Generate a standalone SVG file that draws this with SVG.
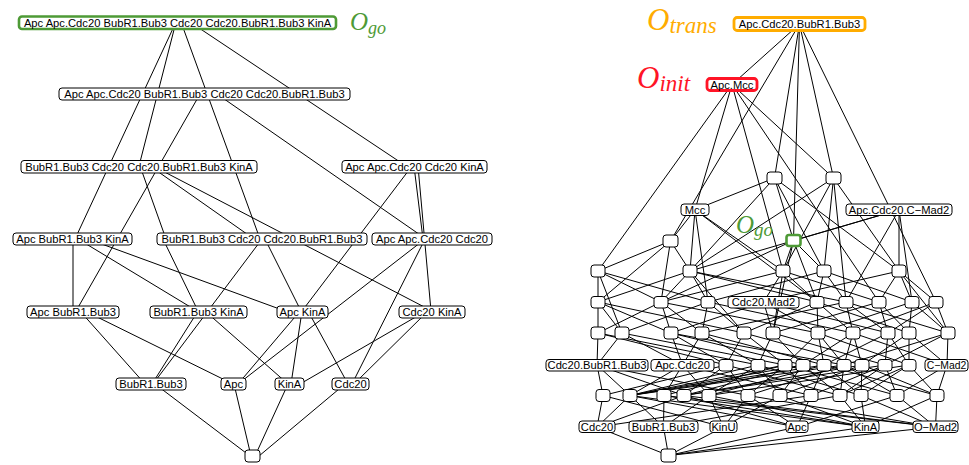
<svg xmlns="http://www.w3.org/2000/svg" width="969" height="465" viewBox="0 0 969 465">
<style>
.node rect{fill:#fff;stroke:#000;stroke-width:1}
.node text{font-family:"Liberation Sans",Arial,sans-serif;font-size:11.2px;text-anchor:middle;fill:#000}
.node rect.go{stroke:#4e9a36;stroke-width:2.6}
.node rect.tr{stroke:#ffac00;stroke-width:2.8}
.node rect.in{stroke:#ff1426;stroke-width:2.8}
.edges line{stroke:#000;stroke-width:1}
.m{font-family:"Liberation Serif","Times New Roman",serif;font-style:italic}
</style>
<rect width="969" height="465" fill="#fff"/>
<g id="edges" class="edges">
<line x1="176" y1="22" x2="75" y2="239"/>
<line x1="176" y1="22" x2="139" y2="166"/>
<line x1="181" y1="22" x2="260" y2="239"/>
<line x1="190" y1="22" x2="406" y2="166"/>
<line x1="200" y1="94" x2="76" y2="311"/>
<line x1="217" y1="94" x2="426" y2="239"/>
<line x1="140" y1="166" x2="166" y2="239"/>
<line x1="150" y1="166" x2="254" y2="239"/>
<line x1="153" y1="166" x2="432" y2="311"/>
<line x1="412" y1="166" x2="302" y2="311"/>
<line x1="414" y1="166" x2="423" y2="239"/>
<line x1="418" y1="166" x2="431" y2="311"/>
<line x1="73" y1="239" x2="73" y2="311"/>
<line x1="78" y1="239" x2="197" y2="311"/>
<line x1="88" y1="239" x2="285" y2="311"/>
<line x1="163" y1="239" x2="198" y2="311"/>
<line x1="262" y1="239" x2="153" y2="384"/>
<line x1="265" y1="239" x2="301" y2="311"/>
<line x1="425" y1="239" x2="238" y2="384"/>
<line x1="425" y1="239" x2="352" y2="384"/>
<line x1="80" y1="311" x2="145" y2="384"/>
<line x1="85" y1="311" x2="233" y2="384"/>
<line x1="198" y1="311" x2="152" y2="384"/>
<line x1="205" y1="311" x2="288" y2="384"/>
<line x1="300" y1="311" x2="238" y2="384"/>
<line x1="302" y1="311" x2="291" y2="384"/>
<line x1="308" y1="311" x2="348" y2="384"/>
<line x1="426" y1="311" x2="300" y2="384"/>
<line x1="428" y1="311" x2="354" y2="384"/>
<line x1="155" y1="384" x2="250" y2="456"/>
<line x1="234" y1="384" x2="251" y2="456"/>
<line x1="288" y1="384" x2="255" y2="456"/>
<line x1="345" y1="384" x2="259" y2="456"/>
<line x1="799.5" y1="24" x2="732" y2="84.5"/>
<line x1="799.5" y1="24" x2="670.5" y2="241"/>
<line x1="799.5" y1="24" x2="774.5" y2="178"/>
<line x1="799.5" y1="24" x2="793.5" y2="240.5"/>
<line x1="799.5" y1="24" x2="833.5" y2="178"/>
<line x1="799.5" y1="24" x2="936" y2="302"/>
<line x1="732" y1="84.5" x2="598" y2="271"/>
<line x1="732" y1="84.5" x2="695" y2="209.75"/>
<line x1="732" y1="84.5" x2="783" y2="271"/>
<line x1="732" y1="84.5" x2="879" y2="302"/>
<line x1="732" y1="84.5" x2="833.5" y2="178"/>
<line x1="774.5" y1="178" x2="695" y2="209.75"/>
<line x1="774.5" y1="178" x2="690" y2="271"/>
<line x1="774.5" y1="178" x2="793.5" y2="240.5"/>
<line x1="774.5" y1="178" x2="824" y2="271"/>
<line x1="774.5" y1="178" x2="899" y2="271"/>
<line x1="833.5" y1="178" x2="690" y2="271"/>
<line x1="833.5" y1="178" x2="783" y2="271"/>
<line x1="833.5" y1="178" x2="824" y2="271"/>
<line x1="833.5" y1="178" x2="899" y2="271"/>
<line x1="833.5" y1="178" x2="846" y2="302"/>
<line x1="695" y1="209.75" x2="670.5" y2="241"/>
<line x1="695" y1="209.75" x2="690" y2="271"/>
<line x1="695" y1="209.75" x2="783" y2="271"/>
<line x1="695" y1="209.75" x2="708" y2="302"/>
<line x1="695" y1="209.75" x2="817" y2="302"/>
<line x1="899" y1="209.75" x2="793.5" y2="240.5"/>
<line x1="899" y1="209.75" x2="690" y2="271"/>
<line x1="899" y1="209.75" x2="899" y2="271"/>
<line x1="899" y1="209.75" x2="846" y2="302"/>
<line x1="899" y1="209.75" x2="912" y2="302"/>
<line x1="670.5" y1="241" x2="598" y2="271"/>
<line x1="670.5" y1="241" x2="690" y2="271"/>
<line x1="670.5" y1="241" x2="598" y2="302"/>
<line x1="670.5" y1="241" x2="661" y2="302"/>
<line x1="793.5" y1="240.5" x2="783" y2="271"/>
<line x1="793.5" y1="240.5" x2="661" y2="302"/>
<line x1="793.5" y1="240.5" x2="817" y2="302"/>
<line x1="793.5" y1="240.5" x2="824" y2="271"/>
<line x1="793.5" y1="240.5" x2="773" y2="333"/>
<line x1="598" y1="271" x2="598" y2="302"/>
<line x1="598" y1="271" x2="661" y2="302"/>
<line x1="598" y1="271" x2="708" y2="302"/>
<line x1="598" y1="271" x2="622" y2="333"/>
<line x1="690" y1="271" x2="598" y2="302"/>
<line x1="690" y1="271" x2="661" y2="302"/>
<line x1="690" y1="271" x2="708" y2="302"/>
<line x1="690" y1="271" x2="817" y2="302"/>
<line x1="690" y1="271" x2="846" y2="302"/>
<line x1="690" y1="271" x2="744" y2="333"/>
<line x1="783" y1="271" x2="661" y2="302"/>
<line x1="783" y1="271" x2="763.5" y2="302"/>
<line x1="783" y1="271" x2="817" y2="302"/>
<line x1="783" y1="271" x2="879" y2="302"/>
<line x1="783" y1="271" x2="773" y2="333"/>
<line x1="824" y1="271" x2="708" y2="302"/>
<line x1="824" y1="271" x2="817" y2="302"/>
<line x1="824" y1="271" x2="846" y2="302"/>
<line x1="824" y1="271" x2="912" y2="302"/>
<line x1="899" y1="271" x2="763.5" y2="302"/>
<line x1="899" y1="271" x2="879" y2="302"/>
<line x1="899" y1="271" x2="912" y2="302"/>
<line x1="899" y1="271" x2="936" y2="302"/>
<line x1="899" y1="271" x2="948" y2="333"/>
<line x1="598" y1="302" x2="598" y2="333"/>
<line x1="598" y1="302" x2="622" y2="333"/>
<line x1="598" y1="302" x2="671" y2="333"/>
<line x1="598" y1="302" x2="744" y2="333"/>
<line x1="661" y1="302" x2="598" y2="333"/>
<line x1="661" y1="302" x2="671" y2="333"/>
<line x1="661" y1="302" x2="702" y2="333"/>
<line x1="661" y1="302" x2="818" y2="333"/>
<line x1="708" y1="302" x2="622" y2="333"/>
<line x1="708" y1="302" x2="702" y2="333"/>
<line x1="708" y1="302" x2="744" y2="333"/>
<line x1="708" y1="302" x2="853" y2="333"/>
<line x1="763.5" y1="302" x2="671" y2="333"/>
<line x1="763.5" y1="302" x2="773" y2="333"/>
<line x1="763.5" y1="302" x2="818" y2="333"/>
<line x1="763.5" y1="302" x2="888" y2="333"/>
<line x1="817" y1="302" x2="744" y2="333"/>
<line x1="817" y1="302" x2="818" y2="333"/>
<line x1="817" y1="302" x2="853" y2="333"/>
<line x1="817" y1="302" x2="909" y2="333"/>
<line x1="846" y1="302" x2="702" y2="333"/>
<line x1="846" y1="302" x2="853" y2="333"/>
<line x1="846" y1="302" x2="888" y2="333"/>
<line x1="846" y1="302" x2="948" y2="333"/>
<line x1="879" y1="302" x2="773" y2="333"/>
<line x1="879" y1="302" x2="888" y2="333"/>
<line x1="879" y1="302" x2="909" y2="333"/>
<line x1="912" y1="302" x2="818" y2="333"/>
<line x1="912" y1="302" x2="909" y2="333"/>
<line x1="912" y1="302" x2="948" y2="333"/>
<line x1="936" y1="302" x2="853" y2="333"/>
<line x1="936" y1="302" x2="888" y2="333"/>
<line x1="936" y1="302" x2="948" y2="333"/>
<line x1="598" y1="333" x2="597" y2="365"/>
<line x1="598" y1="333" x2="726" y2="365"/>
<line x1="598" y1="333" x2="758" y2="365"/>
<line x1="622" y1="333" x2="597" y2="365"/>
<line x1="622" y1="333" x2="682.5" y2="365"/>
<line x1="622" y1="333" x2="785" y2="365"/>
<line x1="671" y1="333" x2="682.5" y2="365"/>
<line x1="671" y1="333" x2="726" y2="365"/>
<line x1="671" y1="333" x2="803" y2="365"/>
<line x1="671" y1="333" x2="844" y2="365"/>
<line x1="702" y1="333" x2="682.5" y2="365"/>
<line x1="702" y1="333" x2="758" y2="365"/>
<line x1="702" y1="333" x2="824" y2="365"/>
<line x1="744" y1="333" x2="726" y2="365"/>
<line x1="744" y1="333" x2="785" y2="365"/>
<line x1="744" y1="333" x2="862" y2="365"/>
<line x1="773" y1="333" x2="758" y2="365"/>
<line x1="773" y1="333" x2="803" y2="365"/>
<line x1="773" y1="333" x2="885" y2="365"/>
<line x1="818" y1="333" x2="785" y2="365"/>
<line x1="818" y1="333" x2="824" y2="365"/>
<line x1="818" y1="333" x2="844" y2="365"/>
<line x1="818" y1="333" x2="909" y2="365"/>
<line x1="853" y1="333" x2="803" y2="365"/>
<line x1="853" y1="333" x2="844" y2="365"/>
<line x1="853" y1="333" x2="862" y2="365"/>
<line x1="853" y1="333" x2="947" y2="365"/>
<line x1="888" y1="333" x2="824" y2="365"/>
<line x1="888" y1="333" x2="885" y2="365"/>
<line x1="888" y1="333" x2="909" y2="365"/>
<line x1="909" y1="333" x2="862" y2="365"/>
<line x1="909" y1="333" x2="909" y2="365"/>
<line x1="909" y1="333" x2="947" y2="365"/>
<line x1="948" y1="333" x2="885" y2="365"/>
<line x1="948" y1="333" x2="947" y2="365"/>
<line x1="948" y1="333" x2="844" y2="365"/>
<line x1="597" y1="365" x2="603" y2="395.5"/>
<line x1="597" y1="365" x2="630" y2="395.5"/>
<line x1="597" y1="365" x2="684" y2="395.5"/>
<line x1="597" y1="365" x2="748" y2="395.5"/>
<line x1="682.5" y1="365" x2="630" y2="395.5"/>
<line x1="682.5" y1="365" x2="664" y2="395.5"/>
<line x1="682.5" y1="365" x2="709" y2="395.5"/>
<line x1="682.5" y1="365" x2="811" y2="395.5"/>
<line x1="726" y1="365" x2="603" y2="395.5"/>
<line x1="726" y1="365" x2="684" y2="395.5"/>
<line x1="726" y1="365" x2="748" y2="395.5"/>
<line x1="726" y1="365" x2="840" y2="395.5"/>
<line x1="758" y1="365" x2="630" y2="395.5"/>
<line x1="758" y1="365" x2="709" y2="395.5"/>
<line x1="758" y1="365" x2="780" y2="395.5"/>
<line x1="758" y1="365" x2="861" y2="395.5"/>
<line x1="785" y1="365" x2="664" y2="395.5"/>
<line x1="785" y1="365" x2="748" y2="395.5"/>
<line x1="785" y1="365" x2="811" y2="395.5"/>
<line x1="785" y1="365" x2="897" y2="395.5"/>
<line x1="785" y1="365" x2="630" y2="395.5"/>
<line x1="803" y1="365" x2="684" y2="395.5"/>
<line x1="803" y1="365" x2="780" y2="395.5"/>
<line x1="803" y1="365" x2="840" y2="395.5"/>
<line x1="803" y1="365" x2="630" y2="395.5"/>
<line x1="824" y1="365" x2="709" y2="395.5"/>
<line x1="824" y1="365" x2="811" y2="395.5"/>
<line x1="824" y1="365" x2="861" y2="395.5"/>
<line x1="824" y1="365" x2="937" y2="395.5"/>
<line x1="824" y1="365" x2="630" y2="395.5"/>
<line x1="844" y1="365" x2="748" y2="395.5"/>
<line x1="844" y1="365" x2="840" y2="395.5"/>
<line x1="844" y1="365" x2="897" y2="395.5"/>
<line x1="844" y1="365" x2="630" y2="395.5"/>
<line x1="862" y1="365" x2="780" y2="395.5"/>
<line x1="862" y1="365" x2="861" y2="395.5"/>
<line x1="862" y1="365" x2="937" y2="395.5"/>
<line x1="862" y1="365" x2="684" y2="395.5"/>
<line x1="885" y1="365" x2="811" y2="395.5"/>
<line x1="885" y1="365" x2="897" y2="395.5"/>
<line x1="885" y1="365" x2="840" y2="395.5"/>
<line x1="885" y1="365" x2="684" y2="395.5"/>
<line x1="909" y1="365" x2="840" y2="395.5"/>
<line x1="909" y1="365" x2="937" y2="395.5"/>
<line x1="909" y1="365" x2="861" y2="395.5"/>
<line x1="909" y1="365" x2="709" y2="395.5"/>
<line x1="947" y1="365" x2="897" y2="395.5"/>
<line x1="947" y1="365" x2="937" y2="395.5"/>
<line x1="603" y1="395.5" x2="597" y2="427"/>
<line x1="603" y1="395.5" x2="723.5" y2="427"/>
<line x1="630" y1="395.5" x2="597" y2="427"/>
<line x1="630" y1="395.5" x2="663.5" y2="427"/>
<line x1="630" y1="395.5" x2="797" y2="427"/>
<line x1="630" y1="395.5" x2="865.5" y2="427"/>
<line x1="664" y1="395.5" x2="663.5" y2="427"/>
<line x1="664" y1="395.5" x2="865.5" y2="427"/>
<line x1="664" y1="395.5" x2="935.5" y2="427"/>
<line x1="684" y1="395.5" x2="597" y2="427"/>
<line x1="684" y1="395.5" x2="797" y2="427"/>
<line x1="684" y1="395.5" x2="935.5" y2="427"/>
<line x1="709" y1="395.5" x2="663.5" y2="427"/>
<line x1="709" y1="395.5" x2="723.5" y2="427"/>
<line x1="709" y1="395.5" x2="865.5" y2="427"/>
<line x1="748" y1="395.5" x2="723.5" y2="427"/>
<line x1="748" y1="395.5" x2="797" y2="427"/>
<line x1="748" y1="395.5" x2="935.5" y2="427"/>
<line x1="780" y1="395.5" x2="723.5" y2="427"/>
<line x1="780" y1="395.5" x2="865.5" y2="427"/>
<line x1="811" y1="395.5" x2="797" y2="427"/>
<line x1="811" y1="395.5" x2="597" y2="427"/>
<line x1="840" y1="395.5" x2="865.5" y2="427"/>
<line x1="840" y1="395.5" x2="663.5" y2="427"/>
<line x1="861" y1="395.5" x2="865.5" y2="427"/>
<line x1="861" y1="395.5" x2="935.5" y2="427"/>
<line x1="897" y1="395.5" x2="935.5" y2="427"/>
<line x1="897" y1="395.5" x2="797" y2="427"/>
<line x1="937" y1="395.5" x2="935.5" y2="427"/>
<line x1="937" y1="395.5" x2="865.5" y2="427"/>
<line x1="597" y1="427" x2="668.5" y2="455.5"/>
<line x1="663.5" y1="427" x2="668.5" y2="455.5"/>
<line x1="723.5" y1="427" x2="668.5" y2="455.5"/>
<line x1="797" y1="427" x2="668.5" y2="455.5"/>
<line x1="865.5" y1="427" x2="668.5" y2="455.5"/>
<line x1="935.5" y1="427" x2="668.5" y2="455.5"/>
</g>
<g id="L-top" class="node"><rect class="go" x="19" y="16.5" width="317" height="12.5" rx="3"/><text x="177.5" y="26.7">Apc Apc.Cdc20 BubR1.Bub3 Cdc20 Cdc20.BubR1.Bub3 KinA</text></g>
<g id="L-r2" class="node"><rect x="59" y="88" width="291" height="12" rx="3"/><text x="204.5" y="98">Apc Apc.Cdc20 BubR1.Bub3 Cdc20 Cdc20.BubR1.Bub3</text></g>
<g id="L-a3" class="node"><rect x="21" y="160.5" width="236" height="12.5" rx="3"/><text x="139" y="170.7">BubR1.Bub3 Cdc20 Cdc20.BubR1.Bub3 KinA</text></g>
<g id="L-b3" class="node"><rect x="342" y="160.5" width="145" height="12.5" rx="3"/><text x="414.5" y="170.7">Apc Apc.Cdc20 Cdc20 KinA</text></g>
<g id="L-a4" class="node"><rect x="13" y="233" width="119" height="12" rx="3"/><text x="72.5" y="243">Apc BubR1.Bub3 KinA</text></g>
<g id="L-b4" class="node"><rect x="157" y="233" width="210" height="12" rx="3"/><text x="262" y="243">BubR1.Bub3 Cdc20 Cdc20.BubR1.Bub3</text></g>
<g id="L-c4" class="node"><rect x="372" y="233" width="120" height="12" rx="3"/><text x="432" y="243">Apc Apc.Cdc20 Cdc20</text></g>
<g id="L-a5" class="node"><rect x="27" y="306" width="92" height="12" rx="3"/><text x="73" y="316">Apc BubR1.Bub3</text></g>
<g id="L-b5" class="node"><rect x="150" y="306" width="97" height="12" rx="3"/><text x="198.5" y="316">BubR1.Bub3 KinA</text></g>
<g id="L-c5" class="node"><rect x="277" y="306" width="51" height="12" rx="3"/><text x="302.5" y="316">Apc KinA</text></g>
<g id="L-d5" class="node"><rect x="399" y="306" width="66" height="12" rx="3"/><text x="432" y="316">Cdc20 KinA</text></g>
<g id="L-a6" class="node"><rect x="116" y="378" width="70" height="12" rx="3"/><text x="151" y="388">BubR1.Bub3</text></g>
<g id="L-b6" class="node"><rect x="221" y="378" width="25" height="12" rx="3"/><text x="233.5" y="388">Apc</text></g>
<g id="L-c6" class="node"><rect x="275" y="378" width="29" height="12" rx="3"/><text x="289.5" y="388">KinA</text></g>
<g id="L-d6" class="node"><rect x="332" y="378" width="37" height="12" rx="3"/><text x="350.5" y="388">Cdc20</text></g>
<g id="L-empty" class="node"><rect x="245" y="450" width="15" height="12" rx="3"/></g>
<text class="m" x="350" y="30" fill="#4e9a36" font-size="25">O<tspan font-size="18" dy="4">go</tspan></text>
<g id="R-trans" class="node"><rect class="tr" x="734" y="17.5" width="131" height="13" rx="3"/><text x="799.5" y="28.2">Apc.Cdc20.BubR1.Bub3</text></g>
<g id="R-init" class="node"><rect class="in" x="707" y="78.5" width="50" height="12" rx="3"/><text x="732" y="88.7">Apc.Mcc</text></g>
<g id="R-n1" class="node"><rect x="767" y="172" width="15" height="12" rx="3"/></g>
<g id="R-n2" class="node"><rect x="826" y="172" width="15" height="12" rx="3"/></g>
<g id="R-mcc" class="node"><rect x="681" y="204" width="28" height="11.5" rx="3"/><text x="695" y="213.8">Mcc</text></g>
<g id="R-acc" class="node"><rect x="846" y="204" width="106" height="11.5" rx="3"/><text x="899" y="213.8">Apc.Cdc20.C−Mad2</text></g>
<g id="R-n3" class="node"><rect x="663" y="235" width="15" height="12" rx="3"/></g>
<g id="R-go" class="node"><rect class="go" x="786.5" y="235" width="14" height="11" rx="2.5"/></g>
<g id="R-a1" class="node"><rect x="591" y="265" width="14" height="12" rx="3"/></g>
<g id="R-a2" class="node"><rect x="683" y="265" width="14" height="12" rx="3"/></g>
<g id="R-a3" class="node"><rect x="776" y="265" width="14" height="12" rx="3"/></g>
<g id="R-a4" class="node"><rect x="817" y="265" width="14" height="12" rx="3"/></g>
<g id="R-a5" class="node"><rect x="892" y="265" width="14" height="12" rx="3"/></g>
<g id="R-b1" class="node"><rect x="591" y="296.5" width="14" height="11.5" rx="3"/></g>
<g id="R-b2" class="node"><rect x="654" y="296.5" width="14" height="11.5" rx="3"/></g>
<g id="R-b3" class="node"><rect x="701" y="296.5" width="14" height="11.5" rx="3"/></g>
<g id="R-b4" class="node"><rect x="728" y="296.5" width="71" height="11.5" rx="3"/><text x="763.5" y="306.3">Cdc20.Mad2</text></g>
<g id="R-b5" class="node"><rect x="810" y="296.5" width="14" height="11.5" rx="3"/></g>
<g id="R-b6" class="node"><rect x="839" y="296.5" width="14" height="11.5" rx="3"/></g>
<g id="R-b7" class="node"><rect x="872" y="296.5" width="14" height="11.5" rx="3"/></g>
<g id="R-b8" class="node"><rect x="905" y="296.5" width="14" height="11.5" rx="3"/></g>
<g id="R-b9" class="node"><rect x="929" y="296.5" width="14" height="11.5" rx="3"/></g>
<g id="R-c1" class="node"><rect x="591" y="327" width="14" height="12" rx="3"/></g>
<g id="R-c2" class="node"><rect x="615" y="327" width="14" height="12" rx="3"/></g>
<g id="R-c3" class="node"><rect x="664" y="327" width="14" height="12" rx="3"/></g>
<g id="R-c4" class="node"><rect x="695" y="327" width="14" height="12" rx="3"/></g>
<g id="R-c5" class="node"><rect x="737" y="327" width="14" height="12" rx="3"/></g>
<g id="R-c6" class="node"><rect x="766" y="327" width="14" height="12" rx="3"/></g>
<g id="R-c7" class="node"><rect x="811" y="327" width="14" height="12" rx="3"/></g>
<g id="R-c8" class="node"><rect x="846" y="327" width="14" height="12" rx="3"/></g>
<g id="R-c9" class="node"><rect x="881" y="327" width="14" height="12" rx="3"/></g>
<g id="R-c10" class="node"><rect x="902" y="327" width="14" height="12" rx="3"/></g>
<g id="R-c11" class="node"><rect x="941" y="327" width="14" height="12" rx="3"/></g>
<g id="R-d1" class="node"><rect x="546" y="359.5" width="102" height="11.5" rx="3"/><text x="597" y="369.3">Cdc20.BubR1.Bub3</text></g>
<g id="R-d2" class="node"><rect x="651" y="359.5" width="63" height="11.5" rx="3"/><text x="682.5" y="369.3">Apc.Cdc20</text></g>
<g id="R-d3" class="node"><rect x="719" y="359.5" width="14" height="11.5" rx="3"/></g>
<g id="R-d4" class="node"><rect x="751" y="359.5" width="14" height="11.5" rx="3"/></g>
<g id="R-d5" class="node"><rect x="778" y="359.5" width="14" height="11.5" rx="3"/></g>
<g id="R-d6" class="node"><rect x="796" y="359.5" width="14" height="11.5" rx="3"/></g>
<g id="R-d7" class="node"><rect x="817" y="359.5" width="14" height="11.5" rx="3"/></g>
<g id="R-d8" class="node"><rect x="837" y="359.5" width="14" height="11.5" rx="3"/></g>
<g id="R-d9" class="node"><rect x="855" y="359.5" width="14" height="11.5" rx="3"/></g>
<g id="R-d10" class="node"><rect x="878" y="359.5" width="14" height="11.5" rx="3"/></g>
<g id="R-d11" class="node"><rect x="902" y="359.5" width="14" height="11.5" rx="3"/></g>
<g id="R-d12" class="node"><rect x="925" y="359.5" width="43" height="11.5" rx="3"/><text x="946.5" y="369.1" style="font-size:10.4px">C−Mad2</text></g>
<g id="R-e1" class="node"><rect x="596" y="389.5" width="14" height="12" rx="3"/></g>
<g id="R-e2" class="node"><rect x="623" y="389.5" width="14" height="12" rx="3"/></g>
<g id="R-e3" class="node"><rect x="657" y="389.5" width="14" height="12" rx="3"/></g>
<g id="R-e4" class="node"><rect x="677" y="389.5" width="14" height="12" rx="3"/></g>
<g id="R-e5" class="node"><rect x="702" y="389.5" width="14" height="12" rx="3"/></g>
<g id="R-e6" class="node"><rect x="741" y="389.5" width="14" height="12" rx="3"/></g>
<g id="R-e7" class="node"><rect x="773" y="389.5" width="14" height="12" rx="3"/></g>
<g id="R-e8" class="node"><rect x="804" y="389.5" width="14" height="12" rx="3"/></g>
<g id="R-e9" class="node"><rect x="833" y="389.5" width="14" height="12" rx="3"/></g>
<g id="R-e10" class="node"><rect x="854" y="389.5" width="14" height="12" rx="3"/></g>
<g id="R-e11" class="node"><rect x="890" y="389.5" width="14" height="12" rx="3"/></g>
<g id="R-e12" class="node"><rect x="930" y="389.5" width="14" height="12" rx="3"/></g>
<g id="R-f1" class="node"><rect x="579" y="421" width="36" height="11.5" rx="3"/><text x="597" y="430.8">Cdc20</text></g>
<g id="R-f2" class="node"><rect x="629" y="421" width="69" height="11.5" rx="3"/><text x="663.5" y="430.8">BubR1.Bub3</text></g>
<g id="R-f3" class="node"><rect x="710" y="421" width="27" height="11.5" rx="3"/><text x="723.5" y="430.8">KinU</text></g>
<g id="R-f4" class="node"><rect x="786" y="421" width="22" height="11.5" rx="3"/><text x="797" y="430.8">Apc</text></g>
<g id="R-f5" class="node"><rect x="852" y="421" width="27" height="11.5" rx="3"/><text x="865.5" y="430.8">KinA</text></g>
<g id="R-f6" class="node"><rect x="913" y="421" width="45" height="11.5" rx="3"/><text x="935.5" y="430.8">O−Mad2</text></g>
<g id="R-empty" class="node"><rect x="661" y="449" width="15" height="13" rx="3"/></g>
<text class="m" x="647" y="30" fill="#ffac00" font-size="31">O<tspan font-size="23" dy="3">trans</tspan></text>
<text class="m" x="637" y="88" fill="#ff1426" font-size="31">O<tspan font-size="23" dy="3">init</tspan></text>
<text class="m" x="736" y="233" fill="#4e9a36" font-size="25">O<tspan font-size="19" dy="3">go</tspan></text>
</svg>
